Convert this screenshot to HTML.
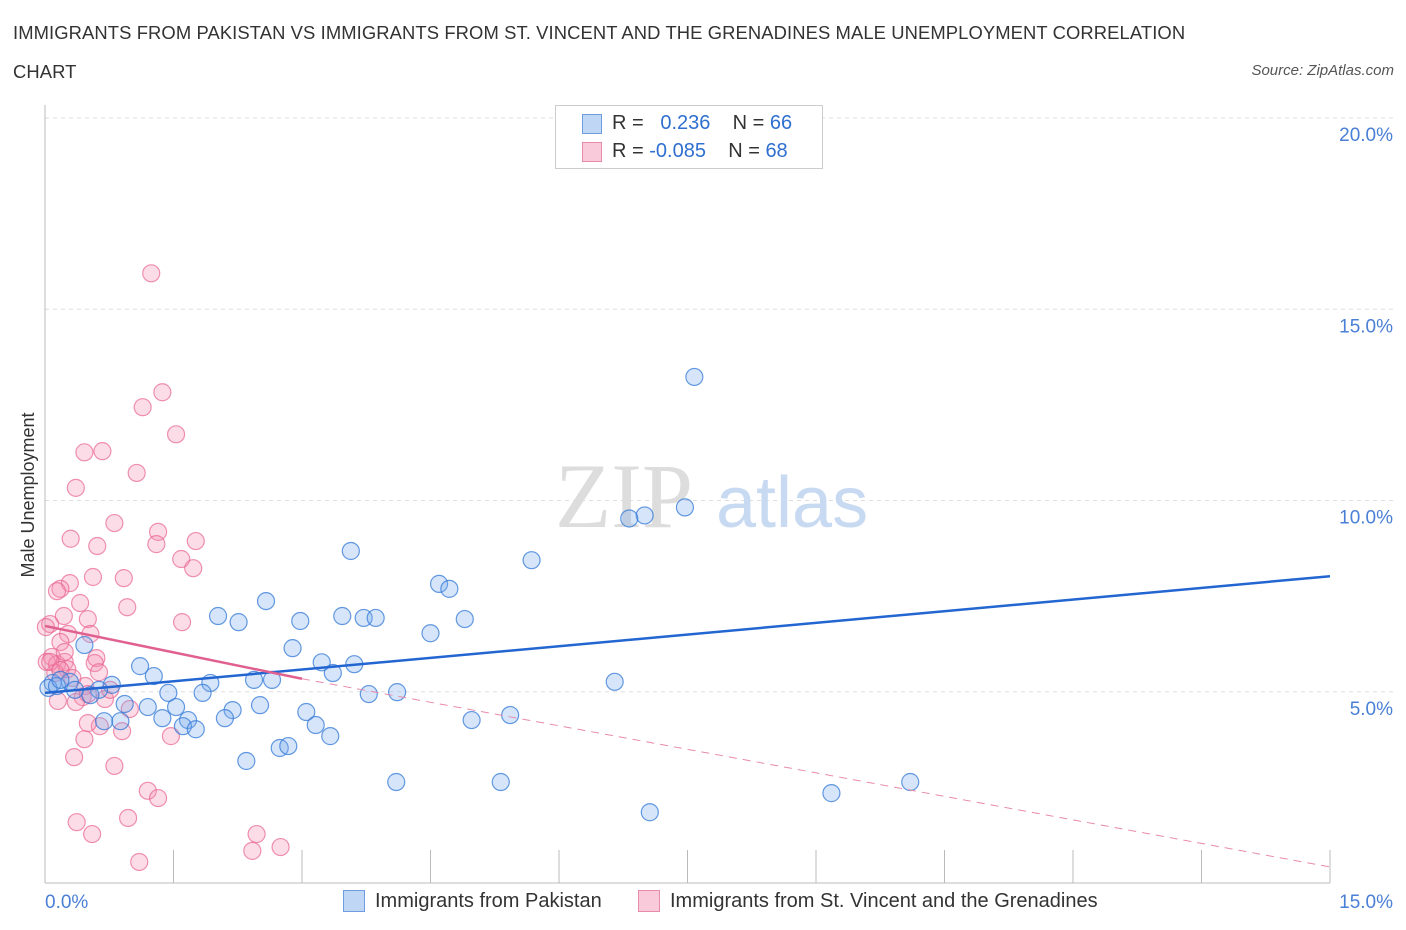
<!DOCTYPE html>
<html><head><meta charset="utf-8"><style>
body{margin:0;background:#fff;font-family:"Liberation Sans",sans-serif;}
.t{position:absolute;left:13px;font-size:18.4px;color:#333;letter-spacing:0.1px}
</style></head><body>
<div style="position:relative;width:1406px;height:930px;overflow:hidden">
<div class="t" style="top:22px">IMMIGRANTS FROM PAKISTAN VS IMMIGRANTS FROM ST. VINCENT AND THE GRENADINES MALE UNEMPLOYMENT CORRELATION</div>
<div class="t" style="top:61px">CHART</div>
<div style="position:absolute;right:12px;top:62px;font-size:15px;color:#555;font-style:italic">Source: ZipAtlas.com</div>
<svg id="chart" width="1406" height="930" style="position:absolute;left:0;top:0"></svg>
</div>
<script>
const blueX=[7.58,7.47,7.0,6.82,3.57,5.68,4.6,4.72,2.58,2.02,2.26,2.98,3.47,3.72,3.86,4.9,4.5,0.46,2.89,1.11,3.23,3.61,1.27,3.36,6.65,0.09,0.29,0.78,1.93,2.44,2.65,0.63,1.44,1.84,3.78,4.11,0.04,0.14,0.93,1.2,1.53,2.51,2.19,3.05,1.37,1.67,2.1,0.69,0.88,1.61,1.76,3.16,4.98,5.43,3.33,2.74,2.84,2.35,4.1,5.32,10.1,9.18,7.06,0.18,0.35,0.53];
const blueY=[13.23,9.82,9.61,9.53,8.68,8.44,7.82,7.69,7.37,6.98,6.82,6.85,6.98,6.93,6.93,6.9,6.53,6.22,6.14,5.67,5.77,5.72,5.41,5.49,5.26,5.23,5.26,5.18,5.23,5.31,5.31,5.05,4.97,4.97,4.94,4.99,5.1,5.15,4.68,4.6,4.6,4.65,4.52,4.47,4.31,4.26,4.31,4.23,4.23,4.1,4.02,4.13,4.26,4.39,3.84,3.53,3.58,3.19,2.64,2.64,2.64,2.35,1.85,5.31,5.05,4.91];
const pinkX=[1.24,1.37,1.14,1.53,0.46,0.67,1.07,0.36,0.81,0.3,1.32,0.61,1.3,1.76,1.59,1.73,0.56,0.92,0.29,0.18,0.14,0.41,0.96,1.6,0.22,0.5,0.06,0.01,0.27,0.53,0.18,0.08,0.02,0.14,0.23,0.6,0.58,0.26,0.63,0.12,0.47,0.44,0.15,0.5,0.99,0.36,0.64,0.9,1.47,0.46,0.5,0.34,0.81,1.2,1.32,0.37,0.97,0.55,2.47,2.42,2.75,1.1,0.06,0.18,0.32,0.7,0.76,0.23];
const pinkY=[15.94,12.83,12.44,11.73,11.26,11.29,10.72,10.33,9.41,9.0,9.18,8.81,8.86,8.94,8.47,8.23,8.0,7.97,7.84,7.69,7.63,7.32,7.21,6.82,6.98,6.9,6.77,6.69,6.51,6.51,6.3,5.91,5.78,5.72,5.78,5.88,5.75,5.59,5.51,5.49,5.15,4.86,4.76,4.94,4.55,4.73,4.1,3.97,3.84,3.76,4.18,3.29,3.06,2.41,2.22,1.59,1.7,1.28,1.28,0.84,0.94,0.55,5.78,5.57,5.36,4.81,5.05,6.04];
const xTicks=[0,1.5,3,4.5,6,7.5,9,10.5,12,13.5,15];
const yTicks=[5,10,15,20];
const yTickLabels=["5.0%","10.0%","15.0%","20.0%"];
const blueTrend=[[0,4.97],[15,8.02]];
const pinkTrend=[[0,6.72],[3,5.34],[15,0.42]];
const X0=45,X1=1330,YB=883,YT=118;
const sx=v=>X0+(v/15)*(X1-X0);
const sy=v=>YB-(v/20)*(YB-YT);
const svg=document.getElementById('chart');
const NS='http://www.w3.org/2000/svg';
function mk(tag,attrs,name){const e=document.createElementNS(NS,tag);for(const k in attrs)e.setAttribute(k,attrs[k]);


svg.appendChild(e);return e;}
yTicks.forEach((v,i)=>{
 mk('line',{x1:X0,x2:1395,y1:sy(v),y2:sy(v),stroke:'#ddd','stroke-dasharray':'4,4'},'gridline-y');
 const t=mk('text',{x:1393,y:sy(v)+23,'text-anchor':'end','font-size':19,fill:'#4a7fd6','font-family':'Liberation Sans'},'y-tick-label');t.textContent=yTickLabels[i];
});
mk('line',{x1:X0,x2:X0,y1:105,y2:YB,stroke:'#bbb'},'y-axis-line');
mk('line',{x1:X0,x2:X1,y1:YB,y2:YB,stroke:'#bbb'},'x-axis-line');
xTicks.forEach(v=>mk('line',{x1:sx(v),x2:sx(v),y1:YB-33,y2:YB,stroke:'#bbb'},'x-tick'));
let t=mk('text',{x:45,y:908,'font-size':19,fill:'#4a7fd6','font-family':'Liberation Sans'},'x-tick-label-min');t.textContent='0.0%';
t=mk('text',{x:1393,y:908,'text-anchor':'end','font-size':19,fill:'#4a7fd6','font-family':'Liberation Sans'},'x-tick-label-max');t.textContent='15.0%';
t=mk('text',{x:34,y:495,'font-size':18,fill:'#333','text-anchor':'middle',transform:'rotate(-90 34 495)','font-family':'Liberation Sans'},'y-axis-title');t.textContent='Male Unemployment';
t=mk('text',{x:555,y:527,'font-size':92,fill:'#ddd','font-family':'Liberation Serif'},'watermark-zip');t.textContent='ZIP';
t=mk('text',{x:716,y:527,'font-size':72,fill:'#c8daf2','font-family':'Liberation Sans'},'watermark-atlas');t.textContent='atlas';
pinkX.forEach((x,i)=>mk('circle',{cx:sx(x),cy:sy(pinkY[i]),r:8.5,fill:'rgba(244,143,177,0.3)',stroke:'rgba(232,100,145,0.7)','stroke-width':1.2},'pink-point'));
blueX.forEach((x,i)=>mk('circle',{cx:sx(x),cy:sy(blueY[i]),r:8.5,fill:'rgba(120,170,235,0.3)',stroke:'rgba(50,120,215,0.75)','stroke-width':1.2},'blue-point'));
mk('line',{x1:sx(blueTrend[0][0]),y1:sy(blueTrend[0][1]),x2:sx(blueTrend[1][0]),y2:sy(blueTrend[1][1]),stroke:'#2366d1','stroke-width':2.5},'blue-trend-line');
mk('line',{x1:sx(pinkTrend[0][0]),y1:sy(pinkTrend[0][1]),x2:sx(pinkTrend[1][0]),y2:sy(pinkTrend[1][1]),stroke:'#e06090','stroke-width':2.5},'pink-trend-line');
mk('line',{x1:sx(pinkTrend[1][0]),y1:sy(pinkTrend[1][1]),x2:sx(pinkTrend[2][0]),y2:sy(pinkTrend[2][1]),stroke:'#e88aab','stroke-width':1,'stroke-dasharray':'8,6'},'pink-trend-dashed');
</script>
<div style="position:absolute;left:555px;top:105px;width:266px;height:62px;border:1px solid #ccc;background:#fff;font-size:20px;color:#333">
<div style="position:absolute;left:26px;top:8px;width:18px;height:18px;background:#c0d6f5;border:1px solid #6d9de0"></div>
<div style="position:absolute;left:56px;top:6px;white-space:pre">R =   <span style="color:#2f6fd0">0.236</span>    N = <span style="color:#2f6fd0">66</span></div>
<div style="position:absolute;left:26px;top:36px;width:18px;height:18px;background:#f9cad9;border:1px solid #e88aab"></div>
<div style="position:absolute;left:56px;top:34px;white-space:pre">R = <span style="color:#2f6fd0">-0.085</span>    N = <span style="color:#2f6fd0">68</span></div>
</div>
<div style="position:absolute;left:343px;top:890px;width:20px;height:20px;background:#c0d6f5;border:1px solid #6d9de0"></div>
<div style="position:absolute;left:375px;top:890px;font-size:20px;color:#333">Immigrants from Pakistan</div>
<div style="position:absolute;left:638px;top:890px;width:20px;height:20px;background:#f9cad9;border:1px solid #e88aab"></div>
<div style="position:absolute;left:670px;top:890px;font-size:20px;color:#333">Immigrants from St. Vincent and the Grenadines</div>
</body></html>
